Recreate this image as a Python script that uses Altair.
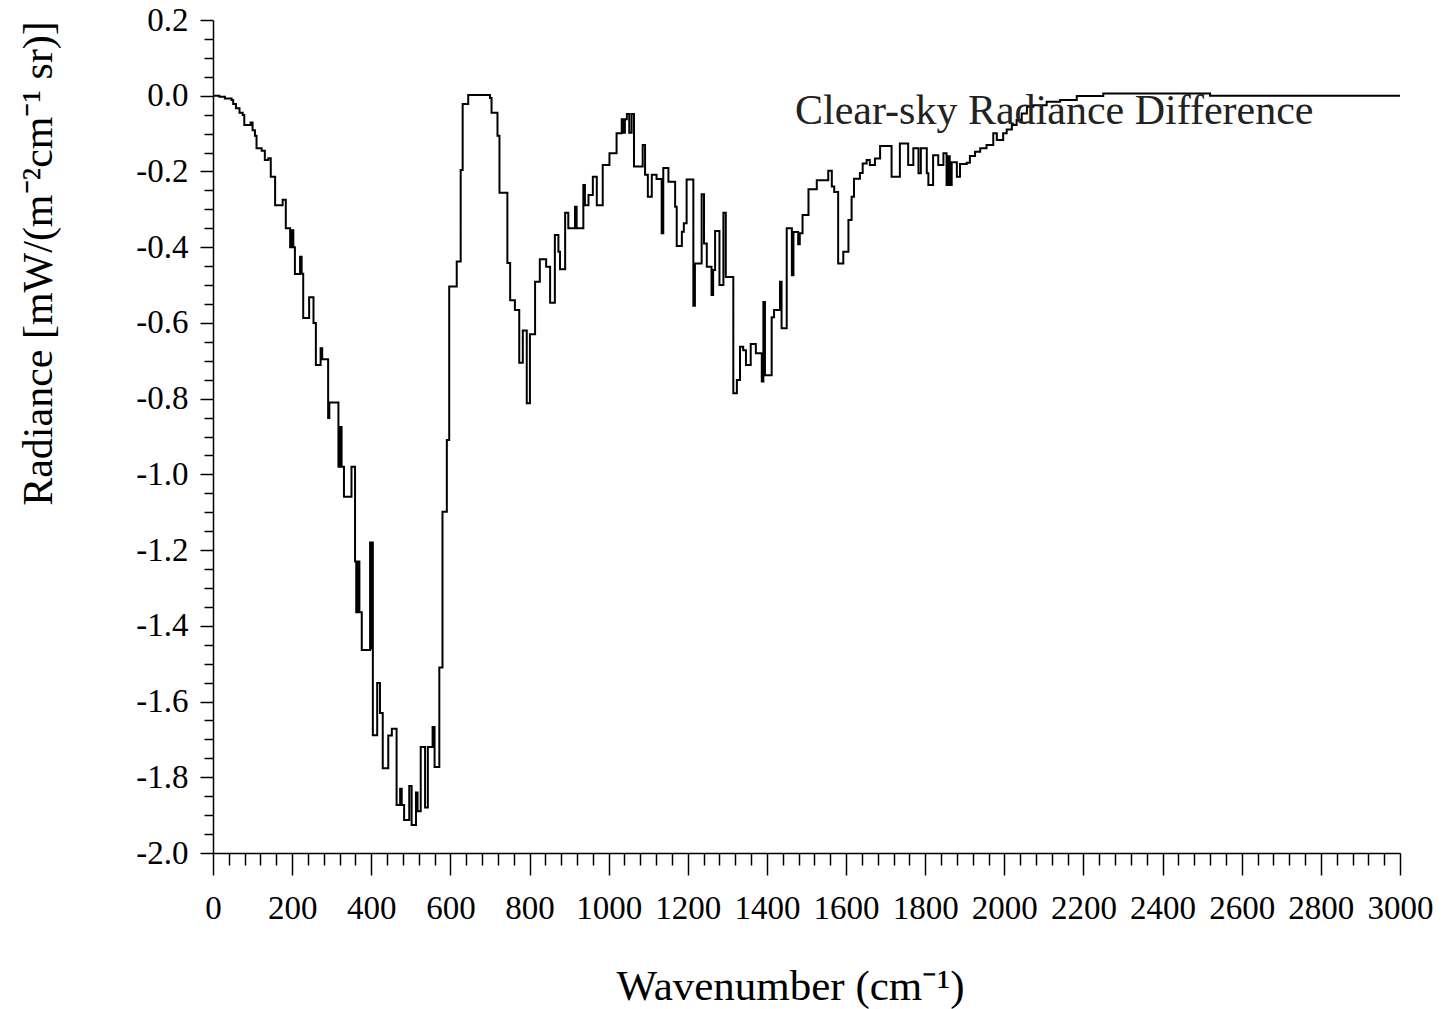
import altair as alt
import pandas as pd

# Left edge of each spectral step (cm^-1) and the radiance difference over it
wavenumber = [
    0, 16, 30, 47, 51, 58, 67, 75, 79, 95, 100, 106, 110, 123, 131, 140, 146, 157, 176, 184,
    195, 199, 203, 207, 220, 224, 228, 243, 254, 260, 272, 276, 291, 294, 317, 321, 325, 331, 350,
    359, 362, 366, 370, 376, 397, 399, 401, 404, 415, 422, 429, 443, 452, 464, 473, 477, 483, 496,
    502, 513, 517, 525, 536, 543, 555, 560, 572, 580, 591, 597, 616, 626, 631, 645, 700, 704, 719,
    724, 744, 751, 763, 774, 783, 793, 801, 814, 826, 842, 852, 864, 873, 877, 890, 898, 915, 919,
    936, 940, 949, 960, 970, 985, 1002, 1020, 1033, 1037, 1041, 1046, 1052, 1058, 1064, 1086, 1092,
    1099, 1109, 1121, 1134, 1138, 1151, 1168, 1172, 1185, 1190, 1197, 1214, 1218, 1235, 1241, 1248,
    1260, 1264, 1269, 1280, 1290, 1296, 1315, 1324, 1332, 1340, 1347, 1359, 1372, 1387, 1391, 1395,
    1412, 1418, 1433, 1437, 1450, 1463, 1467, 1479, 1483, 1490, 1505, 1526, 1555, 1564, 1570, 1580,
    1593, 1606, 1614, 1620, 1635, 1642, 1652, 1660, 1673, 1686, 1715, 1736, 1757, 1770, 1783, 1789,
    1804, 1808, 1820, 1833, 1846, 1854, 1858, 1862, 1867, 1880, 1888, 1905, 1913, 1926, 1939, 1955,
    1972, 1981, 1997, 2006, 2019, 2031, 2044, 2057, 2073, 2107, 2141, 2183, 2250, 2520, 3000,
]
radiance = [
    0.0, -0.003, -0.007, -0.011, -0.022, -0.033, -0.045, -0.051, -0.077, -0.071, -0.091, -0.106,
    -0.139, -0.145, -0.17, -0.165, -0.214, -0.289, -0.275, -0.35,
    -0.40, -0.355, -0.40, -0.471, -0.425, -0.47, -0.587, -0.532, -0.60, -0.711, -0.667, -0.696,
    -0.851, -0.81, -0.98, -0.875, -0.98, -1.059, -0.98,
    -1.23, -1.364, -1.23, -1.364, -1.464, -1.18, -1.46, -1.18, -1.689, -1.551, -1.63, -1.776,
    -1.69, -1.672, -1.873, -1.83, -1.873, -1.913, -1.823,
    -1.926, -1.84, -1.89, -1.72, -1.88, -1.72, -1.667, -1.773, -1.51, -1.099, -0.909, -0.504,
    -0.438, -0.196, -0.022, 0.002, -0.006, -0.045, -0.106,
    -0.256, -0.442, -0.54, -0.566, -0.705, -0.62, -0.812, -0.63, -0.491, -0.432, -0.452, -0.547,
    -0.368, -0.412, -0.458, -0.309, -0.35, -0.293, -0.35,
    -0.236, -0.289, -0.262, -0.214, -0.289, -0.183, -0.152, -0.099, -0.062, -0.098, -0.062,
    -0.048, -0.098, -0.048, -0.187, -0.13, -0.209,
    -0.267, -0.209, -0.22, -0.363, -0.191, -0.227, -0.293, -0.397, -0.359, -0.337, -0.221,
    -0.555, -0.443, -0.26, -0.39, -0.452,
    -0.526, -0.46, -0.357, -0.5, -0.309, -0.479, -0.786, -0.751, -0.663, -0.672, -0.711, -0.656,
    -0.68, -0.755, -0.545, -0.738,
    -0.585, -0.566, -0.491, -0.614, -0.35, -0.474, -0.36, -0.392, -0.363, -0.315, -0.247,
    -0.223, -0.198, -0.24, -0.254, -0.443,
    -0.412, -0.328, -0.267, -0.219, -0.204, -0.179, -0.17, -0.183, -0.166, -0.133, -0.214,
    -0.126, -0.183, -0.139, -0.205, -0.139,
    -0.205, -0.236, -0.157, -0.183, -0.152, -0.236, -0.16, -0.236, -0.176, -0.214, -0.18,
    -0.177, -0.159, -0.148, -0.139, -0.13,
    -0.099, -0.117, -0.099, -0.089, -0.077, -0.064, -0.047, -0.029, -0.025, -0.016, -0.011,
    -0.001, 0.006, 0.0, 0.0,
]

# Tick positions: majors every 200 cm^-1 / 0.2 units, minors in between
x_ticks = list(range(0, 3001, 40))
y_ticks = [round(-2.0 + 0.05 * i, 2) for i in range(45)]

annotation = "Clear-sky Radiance Difference"
x_title = "Wavenumber (cm\u207b\u00b9)"
y_title = "Radiance [mW/(m\u207b\u00b2cm\u207b\u00b9 sr)]"

FONT = "Liberation Serif"

df = pd.DataFrame({"wavenumber": wavenumber, "radiance": radiance})

x_major = "datum.value % 200 === 0"
y_major = "abs(round(datum.value * 20)) % 4 === 0"

x_axis = alt.Axis(
    values=x_ticks,
    format="d",
    labelExpr=f"{x_major} ? datum.label : ''",
    tickSize=alt.condition(x_major, alt.value(22), alt.value(12)),
    labelPadding=17,
    labelFontSize=33,
    labelFlush=False,
    labelOverlap=False,
    title=x_title,
    titleFontSize=43,
    titleX=577,
    titleY=146,
    titleAlign="center",
    titleBaseline="alphabetic",
)

y_axis = alt.Axis(
    values=y_ticks,
    labelExpr=f"{y_major} ? replace(format(datum.value, '.1f'), '\u2212', '-') : ''",
    tickSize=alt.condition(y_major, alt.value(13), alt.value(9)),
    labelPadding=12,
    labelFontSize=33,
    labelFlush=False,
    labelOverlap=False,
    title=y_title,
    titleFontSize=42,
    titleAngle=270,
    titleX=-162,
    titleY=243,
    titleAlign="center",
    titleBaseline="alphabetic",
)

spectrum = alt.Chart(df).mark_line(
    interpolate="step-after", color="black", strokeWidth=2
).encode(
    x=alt.X("wavenumber:Q", scale=alt.Scale(domain=[0, 3000], nice=False, zero=False), axis=x_axis),
    y=alt.Y("radiance:Q", scale=alt.Scale(domain=[-2.0, 0.2], nice=False, zero=False), axis=y_axis),
    order="wavenumber:Q",
)

label = alt.Chart(pd.DataFrame({"text": [annotation]})).mark_text(
    align="left", baseline="alphabetic", font=FONT, fontSize=42, color="#222222"
).encode(
    text="text:N",
    x=alt.value(582),
    y=alt.value(104),
)

chart = alt.layer(spectrum, label).properties(
    width=1187,
    height=833,
    padding={"left": 213, "top": 20, "right": 44, "bottom": 156},
    autosize=alt.AutoSizeParams(type="none"),
    background="white",
).configure_axis(
    grid=False,
    domainColor="black",
    domainWidth=1.5,
    tickColor="black",
    tickWidth=1.5,
    labelColor="black",
    titleColor="black",
    labelFont=FONT,
    titleFont=FONT,
    titleFontWeight="normal",
).configure_view(stroke=None)

chart.save("out.html", embed_options={"renderer": "svg", "actions": False})
